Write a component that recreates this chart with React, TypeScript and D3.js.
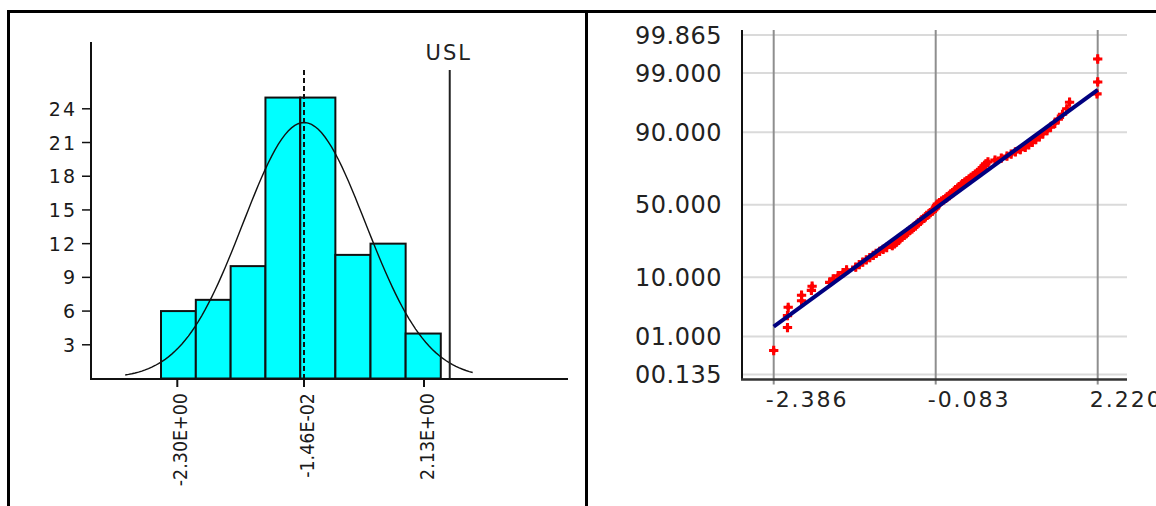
import { useRef, useEffect } from 'react';
import * as d3 from 'd3';

// histogram (left)
const binCounts = [6, 7, 10, 25, 25, 11, 12, 4];
const binStart = -2.594;
const binWidth = 0.628;
const histTicks = [-2.3, -0.0146, 2.13];
const histTickLabels = ['-2.30E+00', '-1.46E-02', '2.13E+00'];
const countTicks = [3, 6, 9, 12, 15, 18, 21, 24];
const mean = -0.0146;
const sigma = 1.1;
const usl = 2.59;
const curveRange = [-3.24, 3.0];

// normal probability plot (right)
const samples = [
  -2.386, -2.19, -2.19, -2.18, -1.99, -1.99,
  -1.85, -1.84, -1.59, -1.54, -1.47, -1.4, -1.35,
  -1.22, -1.17, -1.12, -1.07, -1.02, -0.97, -0.93, -0.88, -0.83, -0.78,
  -0.7, -0.67, -0.64, -0.61, -0.59, -0.56, -0.53, -0.5, -0.48, -0.45, -0.42, -0.4, -0.37,
  -0.35, -0.33, -0.3, -0.28, -0.25, -0.23, -0.21, -0.18, -0.16, -0.13, -0.11, -0.09,
  -0.08, -0.07, -0.06, -0.03, 0.0, 0.03, 0.06, 0.08, 0.11, 0.13, 0.16, 0.18, 0.2,
  0.23, 0.25, 0.28, 0.3, 0.33, 0.36, 0.39, 0.42, 0.45, 0.48, 0.51, 0.54,
  0.56, 0.58, 0.61, 0.63, 0.66, 0.76, 0.85, 0.93, 0.99, 1.05, 1.12,
  1.19, 1.24, 1.29, 1.34, 1.39, 1.44, 1.5, 1.55, 1.61, 1.66, 1.72, 1.78,
  1.82, 2.21, 2.22, 2.22,
];
const probTicks = [0.135, 1, 10, 50, 90, 99, 99.865];
const probTickLabels = ['00.135', '01.000', '10.000', '50.000', '90.000', '99.000', '99.865'];
const valueTicks = [-2.386, -0.083, 2.22];
const valueTickLabels = ['-2.386', '-0.083', '2.220'];

// inverse normal cdf (Acklam)
const probit = (p: number) => {
  const a = [-39.69683028665376, 220.9460984245205, -275.9285104469687, 138.357751867269, -30.66479806614716, 2.506628277459239];
  const b = [-54.47609879822406, 161.5858368580409, -155.6989798598866, 66.80131188771972, -13.28068155288572];
  const c = [-0.007784894002430293, -0.3223964580411365, -2.400758277161838, -2.549732539343734, 4.374664141464968, 2.938163982698783];
  const d = [0.007784695709041462, 0.3224671290700398, 2.445134137142996, 3.754408661907416];
  const pl = 0.02425;
  if (p < pl) {
    const q = Math.sqrt(-2 * Math.log(p));
    return (((((c[0] * q + c[1]) * q + c[2]) * q + c[3]) * q + c[4]) * q + c[5]) / ((((d[0] * q + d[1]) * q + d[2]) * q + d[3]) * q + 1);
  }
  if (p > 1 - pl) {
    const q = Math.sqrt(-2 * Math.log(1 - p));
    return -(((((c[0] * q + c[1]) * q + c[2]) * q + c[3]) * q + c[4]) * q + c[5]) / ((((d[0] * q + d[1]) * q + d[2]) * q + d[3]) * q + 1);
  }
  const q = p - 0.5;
  const r = q * q;
  return ((((((a[0] * r + a[1]) * r + a[2]) * r + a[3]) * r + a[4]) * r + a[5]) * q) / (((((b[0] * r + b[1]) * r + b[2]) * r + b[3]) * r + b[4]) * r + 1);
};

const FONT = 'DejaVu Sans, Verdana, sans-serif';

const App = () => {
  const svgRef = useRef<SVGSVGElement>(null);

  useEffect(() => {
    if (!svgRef.current) return;
    const width = 1156;
    const height = 506;
    const svg = d3.select(svgRef.current).attr('width', width).attr('height', height);
    svg.selectAll('*').remove();

    // frame
    svg.append('line').attr('x1', 7).attr('x2', width).attr('y1', 11.5).attr('y2', 11.5).attr('stroke', '#000').attr('stroke-width', 3);
    svg.append('line').attr('x1', 8.5).attr('x2', 8.5).attr('y1', 10).attr('y2', height).attr('stroke', '#000').attr('stroke-width', 3);
    svg.append('line').attr('x1', 586.5).attr('x2', 586.5).attr('y1', 10).attr('y2', height).attr('stroke', '#000').attr('stroke-width', 3);

    // ---------- histogram ----------
    const h = svg.append('g');
    const xH = d3.scaleLinear().domain(histTicks).range([177.3, 304, 424]);
    const yH = d3.scaleLinear().domain([0, 24]).range([378.5, 108.8]);
    const axisLeftX = 91;
    const axisY = 379;

    const bins = binCounts.map((c, i) => ({ x0: binStart + i * binWidth, x1: binStart + (i + 1) * binWidth, c }));
    h.append('g')
      .selectAll('rect')
      .data(bins)
      .enter()
      .append('rect')
      .attr('x', (d) => xH(d.x0))
      .attr('y', (d) => yH(d.c))
      .attr('width', (d) => xH(d.x1) - xH(d.x0))
      .attr('height', (d) => yH(0) - yH(d.c))
      .attr('fill', '#00ffff')
      .attr('stroke', '#111')
      .attr('stroke-width', 2);

    // normal curve
    const curvePts = d3.range(curveRange[0], curveRange[1] + 0.001, 0.06).map((v) => {
      const pdf = Math.exp(-0.5 * ((v - mean) / sigma) ** 2) / (sigma * Math.sqrt(2 * Math.PI));
      return [v, pdf * d3.sum(binCounts) * binWidth] as [number, number];
    });
    h.append('path')
      .attr('d', d3.line<[number, number]>().x((d) => xH(d[0])).y((d) => yH(d[1]))(curvePts))
      .attr('fill', 'none')
      .attr('stroke', '#111')
      .attr('stroke-width', 1.4);

    // mean line
    h.append('line')
      .attr('x1', xH(mean)).attr('x2', xH(mean))
      .attr('y1', 70).attr('y2', axisY)
      .attr('stroke', '#111').attr('stroke-width', 2).attr('stroke-dasharray', '5,3');

    // USL
    h.append('line')
      .attr('x1', xH(usl)).attr('x2', xH(usl))
      .attr('y1', 70).attr('y2', axisY)
      .attr('stroke', '#222').attr('stroke-width', 2);
    h.append('text')
      .attr('x', xH(usl) - 1).attr('y', 60)
      .attr('text-anchor', 'middle')
      .style('font-family', FONT).style('font-size', '21px').style('letter-spacing', '2px')
      .attr('fill', '#222')
      .text('USL');

    // axes
    h.append('line').attr('x1', axisLeftX).attr('x2', axisLeftX).attr('y1', 42).attr('y2', axisY + 1).attr('stroke', '#111').attr('stroke-width', 2);
    h.append('line').attr('x1', axisLeftX).attr('x2', 568).attr('y1', axisY).attr('y2', axisY).attr('stroke', '#111').attr('stroke-width', 2);

    const yt = h.append('g').selectAll('g').data(countTicks).enter().append('g');
    yt.append('line')
      .attr('x1', axisLeftX - 9).attr('x2', axisLeftX)
      .attr('y1', (d) => yH(d)).attr('y2', (d) => yH(d))
      .attr('stroke', '#111').attr('stroke-width', 1.5);
    yt.append('text')
      .attr('x', 77).attr('y', (d) => yH(d) + 7)
      .attr('text-anchor', 'end')
      .style('font-family', FONT).style('font-size', '19px').style('letter-spacing', '2px')
      .attr('fill', '#1a1a1a')
      .text((d) => d);

    const xt = h.append('g').selectAll('g').data(histTicks).enter().append('g');
    xt.append('line')
      .attr('x1', (d) => xH(d)).attr('x2', (d) => xH(d))
      .attr('y1', axisY).attr('y2', axisY + 8)
      .attr('stroke', '#111').attr('stroke-width', 2);
    xt.append('text')
      .attr('transform', (d) => `translate(${xH(d) + 9.5},393) scale(1.15,1) rotate(-90)`)
      .attr('text-anchor', 'end')
      .style('font-family', FONT).style('font-size', '17.5px')
      .attr('fill', '#1a1a1a')
      .text((d, i) => histTickLabels[i]);

    // ---------- probability plot ----------
    const p = svg.append('g');
    const xP = d3.scaleLinear().domain([valueTicks[0], valueTicks[2]]).range([773.7, 1097.7]);
    const yP = d3.scaleLinear().domain([-3, 3]).range([374.5, 35]);
    const left = 742;
    const right = 1127;
    const top = 30;
    const bottom = 379.5;

    p.append('g')
      .selectAll('line')
      .data(probTicks)
      .enter()
      .append('line')
      .attr('x1', left).attr('x2', right)
      .attr('y1', (d) => yP(probit(d / 100))).attr('y2', (d) => yP(probit(d / 100)))
      .attr('stroke', '#dadada').attr('stroke-width', 2);

    p.append('g')
      .selectAll('line')
      .data(valueTicks)
      .enter()
      .append('line')
      .attr('x1', (d) => xP(d)).attr('x2', (d) => xP(d))
      .attr('y1', top).attr('y2', bottom + 5)
      .attr('stroke', '#8e8e8e').attr('stroke-width', 2);

    p.append('line').attr('x1', left).attr('x2', left).attr('y1', top).attr('y2', bottom).attr('stroke', '#111').attr('stroke-width', 2);
    p.append('line').attr('x1', left - 1).attr('x2', right).attr('y1', bottom).attr('y2', bottom).attr('stroke', '#333').attr('stroke-width', 2.5);

    p.append('g')
      .selectAll('text')
      .data(probTicks)
      .enter()
      .append('text')
      .attr('x', 722).attr('y', (d) => yP(probit(d / 100)) + 8.7)
      .attr('text-anchor', 'end')
      .style('font-family', FONT).style('font-size', '24px').style('letter-spacing', '0.5px')
      .attr('fill', '#222')
      .text((d, i) => probTickLabels[i]);

    p.append('g')
      .selectAll('text')
      .data(valueTicks)
      .enter()
      .append('text')
      .attr('x', (d) => xP(d) - 8).attr('y', 406.5)
      .attr('text-anchor', 'start')
      .style('font-family', FONT).style('font-size', '22px').style('letter-spacing', '2px')
      .attr('fill', '#222')
      .text((d, i) => valueTickLabels[i]);

    const n = samples.length;
    const pts = samples.map((v, i) => ({ v, z: probit((i + 0.5) / n) }));
    const cross = d3.symbol().type(d3.symbolCross).size(48);
    const diamond = d3.symbol().type(d3.symbolDiamond).size(26);
    const marks = p.append('g').selectAll('g').data(pts).enter().append('g')
      .attr('transform', (d) => `translate(${xP(d.v)},${yP(d.z)})`)
      .attr('fill', '#ff0000');
    marks.append('path').attr('d', cross);
    marks.append('path').attr('d', diamond);

    const lo = d3.min(samples) ?? 0;
    const hi = d3.max(samples) ?? 0;
    p.append('line')
      .attr('x1', xP(lo)).attr('y1', yP((lo - mean) / sigma))
      .attr('x2', xP(hi)).attr('y2', yP((hi - mean) / sigma))
      .attr('stroke', '#000080').attr('stroke-width', 4);
  }, []);

  return (
    <svg ref={svgRef} style={{ position: 'absolute', left: 0, top: 0, display: 'block', background: '#fff' }}></svg>
  );
};

export default App;
